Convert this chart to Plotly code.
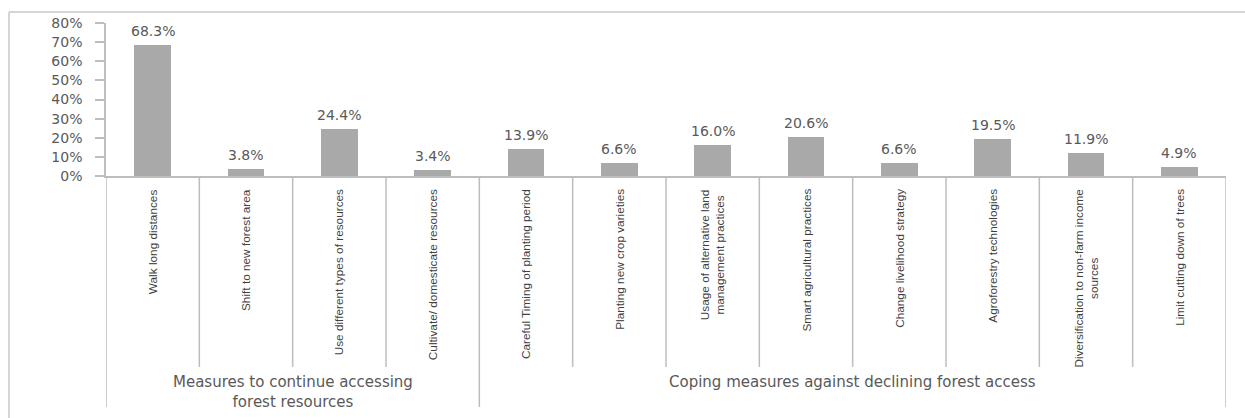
import plotly.graph_objects as go

# Survey responses: share of households reporting each measure
categories = [
    "Walk long distances",
    "Shift to new forest area",
    "Use different types of resources",
    "Cultivate/ domesticate resources",
    "Careful Timing of planting period",
    "Planting new crop varieties",
    "Usage of alternative land<br>management practices",
    "Smart agricultural practices",
    "Change livelihood strategy",
    "Agroforestry technologies",
    "Diversification to non-farm income<br>sources",
    "Limit cutting down of trees",
]
shares = [0.683, 0.038, 0.244, 0.034, 0.139, 0.066, 0.160, 0.206, 0.066, 0.195, 0.119, 0.049]

group_names = [
    "Measures to continue accessing<br>forest resources",
    "Coping measures against declining forest access",
]
group_sizes = [4, 8]

y_ticks = [0, 0.1, 0.2, 0.3, 0.4, 0.5, 0.6, 0.7, 0.8]

W, H = 1245, 418
ML, MR, MT, MB = 106, 19, 23, 242
PW, PH = W - ML - MR, H - MT - MB
AX_Y = MT + PH  # pixel row of the category axis


def py(pix):
    """Pixel row -> paper y."""
    return (AX_Y - pix) / PH


def px(pix):
    """Pixel column -> paper x."""
    return (pix - ML) / PW


LINE = "#bdbdbd"
TEXT = "#595959"

xs = list(range(len(categories)))

fig = go.Figure(
    go.Bar(
        x=xs,
        y=shares,
        width=0.39,
        marker=dict(color="#a9a9a9", line=dict(width=0)),
        hoverinfo="skip",
    )
)

shapes = []
# category separators below the axis; group edges run further down
n = len(categories)
group_edges = {-0.5}
acc = -0.5
for s in group_sizes:
    acc += s
    group_edges.add(acc)
for k in range(n + 1):
    xe = k - 0.5
    bottom = 407 if xe in group_edges else 367
    shapes.append(dict(type="line", xref="x", yref="paper", x0=xe, x1=xe,
                       y0=0, y1=py(bottom), line=dict(color=LINE, width=1.5)))

# outer chart frame
shapes.append(dict(type="line", xref="paper", yref="paper", x0=px(9), x1=px(9),
                   y0=py(12), y1=py(H + 5), line=dict(color="#c8c8c8", width=1.5)))
shapes.append(dict(type="line", xref="paper", yref="paper", x0=px(9), x1=px(W + 5),
                   y0=py(12), y1=py(12), line=dict(color="#c8c8c8", width=1.5)))

annotations = []
# value labels above each bar
for i, v in enumerate(shares):
    annotations.append(dict(
        x=i, y=v, xref="x", yref="y", text=f"{v:.1%}", showarrow=False,
        xanchor="center", yanchor="bottom", yshift=4,
        font=dict(family="DejaVu Sans", size=14, color=TEXT),
    ))

for i, name in enumerate(categories):
    annotations.append(dict(
        x=i, y=py(187), xref="x", yref="paper", text=name, showarrow=False,
        textangle=-90, xanchor="center", yanchor="top", align="center",
        font=dict(family="Liberation Sans Narrow, Liberation Sans, Arial", size=11.8, color="#404040"),
    ))

start = -0.5
for name, s in zip(group_names, group_sizes):
    annotations.append(dict(
        x=start + s / 2, y=py(371), xref="x", yref="paper", text=name, showarrow=False,
        xanchor="center", yanchor="top", align="center",
        font=dict(family="DejaVu Sans", size=15, color=TEXT),
    ))
    start += s

fig.update_layout(
    width=W, height=H,
    margin=dict(l=ML, r=MR, t=MT, b=MB, pad=0),
    paper_bgcolor="white", plot_bgcolor="white",
    showlegend=False,
    bargap=0,
    shapes=shapes,
    annotations=annotations,
    xaxis=dict(range=[-0.5, n - 0.5], showticklabels=False, ticks="",
               showgrid=False, zeroline=False, showline=True,
               linecolor=LINE, linewidth=1.5, fixedrange=True),
    yaxis=dict(range=[0, 0.8], tickvals=y_ticks, tickformat=".0%",
               ticks="outside", ticklen=9, tickcolor=LINE, tickwidth=1.5,
               ticklabelstandoff=10,
               showgrid=False, zeroline=False, showline=True,
               linecolor=LINE, linewidth=1.5,
               tickfont=dict(family="DejaVu Sans", size=14, color=TEXT),
               fixedrange=True),
)

fig.write_html("out.html", config={"displayModeBar": False})
